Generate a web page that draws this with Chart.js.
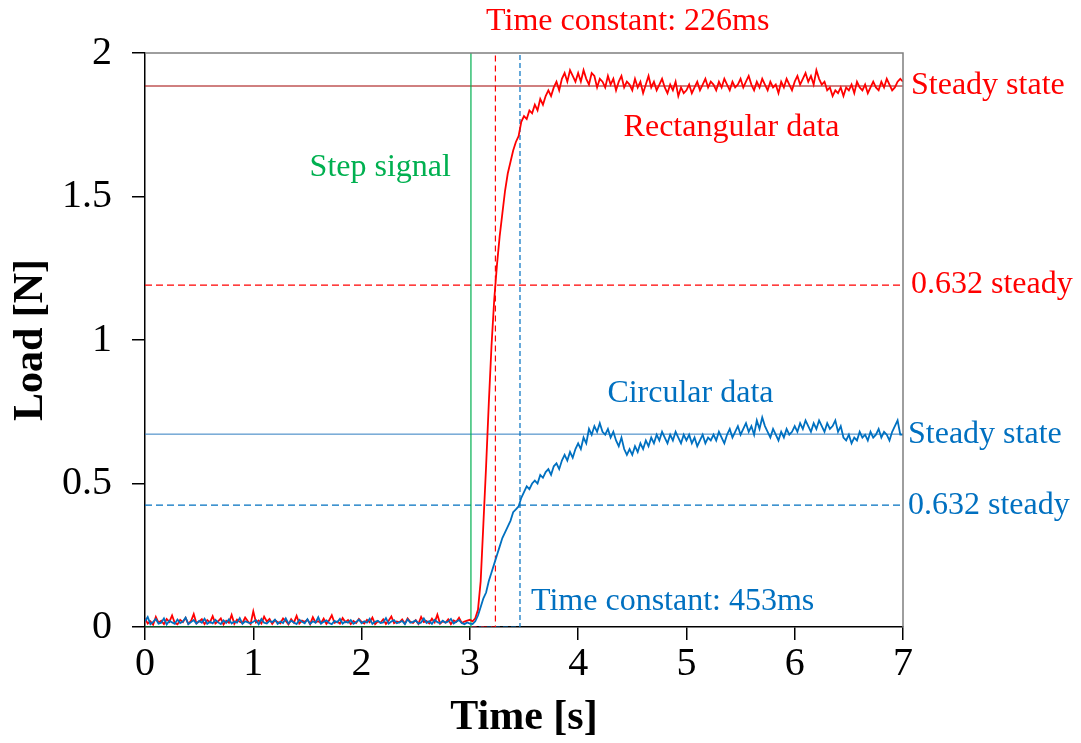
<!DOCTYPE html>
<html>
<head>
<meta charset="utf-8">
<script src="https://cdn.jsdelivr.net/npm/chart.js@4.4.1/dist/chart.umd.min.js"></script>
<style>
  html, body { margin: 0; padding: 0; background: #ffffff; }
  #wrap { width: 1081px; height: 743px; position: relative; }
</style>
</head>
<body>
<div id="wrap"><canvas id="c"></canvas></div>
<script>
// Sampling interval of the load recordings [s]
const sampleStep = 0.025;

// Load on the rectangular specimen [N], one value per sample
const rectangularLoad = [
  0.030,0.012,0.020,0.008,0.035,0.015,0.022,0.010,0.028,0.018,
  0.040,0.014,0.009,0.025,0.017,0.032,0.011,0.021,0.045,0.013,
  0.019,0.027,0.010,0.024,0.016,0.038,0.012,0.020,0.030,0.009,
  0.022,0.015,0.042,0.011,0.026,0.018,0.014,0.033,0.020,0.010,
  0.055,0.016,0.023,0.012,0.036,0.019,0.028,0.011,0.024,0.017,
  0.013,0.030,0.021,0.009,0.027,0.015,0.039,0.012,0.022,0.018,
  0.026,0.010,0.034,0.016,0.020,0.013,0.029,0.011,0.023,0.041,
  0.015,0.019,0.012,0.031,0.017,0.024,0.010,0.021,0.014,0.028,
  0.018,0.012,0.025,0.016,0.033,0.010,0.020,0.015,0.027,0.011,
  0.022,0.037,0.013,0.019,0.016,0.026,0.012,0.030,0.018,0.014,
  0.024,0.011,0.035,0.017,0.021,0.013,0.029,0.016,0.043,0.012,
  0.020,0.015,0.027,0.010,0.023,0.018,0.032,0.014,0.019,0.022,
  0.025,
  0.02,0.03,0.06,0.16,0.36,0.56,0.78,0.98,1.14,1.26,
  1.36,1.44,1.52,1.58,1.62,1.66,1.69,1.71,1.76,1.78,
  1.77,1.80,1.79,1.82,1.80,1.84,1.82,1.85,1.87,1.85,
  1.88,1.90,1.87,1.91,1.93,1.90,1.94,1.92,1.90,
  1.93,1.90,1.94,1.91,1.89,1.93,1.92,1.88,1.91,1.90,
  1.88,1.92,1.89,1.91,1.87,1.90,1.92,1.88,1.90,1.89,
  1.87,1.91,1.88,1.90,1.86,1.89,1.92,1.88,1.90,1.87,
  1.89,1.91,1.88,1.86,1.89,1.87,1.90,1.85,1.88,1.86,
  1.87,1.89,1.86,1.88,1.90,1.87,1.89,1.91,1.88,1.90,
  1.89,1.87,1.90,1.88,1.91,1.89,1.87,1.90,1.88,1.89,
  1.91,1.88,1.90,1.92,1.89,1.87,1.90,1.88,1.91,1.89,
  1.87,1.90,1.88,1.89,1.86,1.90,1.88,1.91,1.89,1.87,
  1.90,1.92,1.89,1.91,1.93,1.90,1.92,1.89,1.94,1.91,
  1.89,1.90,1.87,1.88,1.85,1.87,1.86,1.88,1.85,1.88,
  1.87,1.89,1.86,1.90,1.88,1.87,1.89,1.86,1.88,1.90,
  1.88,1.87,1.90,1.88,1.91,1.89,1.87,1.88,1.90,1.91,
  1.90
];

// Load on the circular specimen [N], one value per sample
const circularLoad = [
  0.020,0.035,0.010,0.018,0.028,0.012,0.015,0.030,0.009,0.022,
  0.016,0.011,0.026,0.014,0.019,0.033,0.010,0.017,0.024,0.012,
  0.021,0.015,0.029,0.011,0.018,0.013,0.025,0.016,0.010,0.023,
  0.014,0.027,0.012,0.019,0.015,0.031,0.011,0.020,0.016,0.013,
  0.018,0.024,0.010,0.028,0.015,0.012,0.021,0.017,0.026,0.011,
  0.019,0.014,0.030,0.012,0.022,0.016,0.010,0.025,0.018,0.013,
  0.027,0.011,0.020,0.015,0.034,0.012,0.018,0.023,0.014,0.010,
  0.021,0.016,0.028,0.012,0.019,0.015,0.024,0.011,0.017,0.026,
  0.013,0.020,0.015,0.029,0.011,0.018,0.022,0.014,0.016,0.031,
  0.012,0.019,0.024,0.013,0.017,0.021,0.010,0.027,0.015,0.018,
  0.023,0.012,0.016,0.030,0.014,0.020,0.011,0.025,0.017,0.013,
  0.022,0.015,0.019,0.028,0.012,0.018,0.024,0.014,0.010,0.016,
  0.012,
  0.01,0.02,0.04,0.07,0.10,0.12,0.16,0.19,0.22,0.25,
  0.28,0.31,0.33,0.35,0.37,0.40,0.41,0.42,0.45,0.47,
  0.49,0.48,0.50,0.51,0.50,0.53,0.52,0.54,0.55,0.53,
  0.56,0.57,0.55,0.58,0.60,0.58,0.61,0.59,0.62,0.64,
  0.62,0.66,0.64,0.69,0.67,0.70,0.68,0.71,0.68,0.67,
  0.69,0.66,0.68,0.65,0.63,0.66,0.62,0.60,0.62,
  0.60,0.63,0.61,0.64,0.62,0.65,0.63,0.66,0.64,0.67,
  0.65,0.68,0.66,0.64,0.67,0.65,0.68,0.66,0.64,0.67,
  0.65,0.67,0.64,0.66,0.63,0.65,0.67,0.64,0.66,0.65,
  0.67,0.65,0.68,0.66,0.64,0.67,0.69,0.66,0.68,0.70,
  0.67,0.69,0.71,0.68,0.70,0.67,0.72,0.69,0.73,0.70,
  0.68,0.66,0.69,0.67,0.65,0.68,0.66,0.69,0.67,0.68,
  0.70,0.68,0.71,0.69,0.72,0.70,0.68,0.71,0.69,0.72,
  0.70,0.68,0.71,0.69,0.70,0.72,0.68,0.70,0.66,0.65,
  0.67,0.64,0.66,0.65,0.68,0.66,0.67,0.65,0.68,0.66,
  0.67,0.69,0.66,0.68,0.67,0.65,0.68,0.70,0.72,0.67,
  0.67
];

// Step response characteristics
const stepTime = 3.01;          // s
const rectSteady = 1.885;       // N
const circSteady = 0.672;       // N
const rectTauMs = 226;          // ms
const circTauMs = 453;          // ms
const steadyFraction = 0.632;

// Axis ticks
const timeTicks = [0, 1, 2, 3, 4, 5, 6, 7];
const loadTicks = [0, 0.5, 1, 1.5, 2];

const RED = '#ff0000';
const BLUE = '#0070c0';
const GREEN = '#00b050';
const SERIF = "'Liberation Serif', 'Times New Roman', serif";

const toPoints = arr => arr.map((v, i) => ({ x: +(i * sampleStep).toFixed(3), y: v }));
const tMin = timeTicks[0], tMax = timeTicks[timeTicks.length - 1];
const yMax = loadTicks[loadTicks.length - 1];
const rectTau = stepTime + rectTauMs / 1000;
const circTau = stepTime + circTauMs / 1000;

const refLine = (data, color, dash, width) => ({
  data, borderColor: color, borderWidth: width, borderDash: dash,
  pointRadius: 0, fill: false, tension: 0
});

const datasets = [
  { data: toPoints(circularLoad), borderColor: BLUE, borderWidth: 1.8, pointRadius: 0, tension: 0 },
  { data: toPoints(rectangularLoad), borderColor: RED, borderWidth: 1.8, pointRadius: 0, tension: 0 },
  refLine([{ x: tMin, y: 0 }, { x: stepTime, y: 0 }, { x: stepTime, y: yMax }], GREEN, [], 1.2),
  refLine([{ x: stepTime, y: 0 }, { x: rectTau, y: 0 }, { x: rectTau, y: yMax }], RED, [6, 4], 1.2),
  refLine([{ x: stepTime, y: 0 }, { x: circTau, y: 0 }, { x: circTau, y: yMax }], BLUE, [5, 3], 1.2),
  refLine([{ x: tMin, y: rectSteady }, { x: tMax, y: rectSteady }], '#a00000', [], 1),
  refLine([{ x: tMin, y: rectSteady * steadyFraction }, { x: tMax, y: rectSteady * steadyFraction }], RED, [7, 4], 1.2),
  refLine([{ x: tMin, y: circSteady }, { x: tMax, y: circSteady }], '#2f7dc0', [], 1),
  refLine([{ x: tMin, y: circSteady * steadyFraction }, { x: tMax, y: circSteady * steadyFraction }], BLUE, [7, 4], 1.2)
];

// Frame on the top and right of the plot area plus the text annotations
const annotations = {
  id: 'annotations',
  afterDraw(chart) {
    const { ctx, chartArea: a, scales: { x, y } } = chart;
    ctx.save();
    ctx.strokeStyle = '#7f7f7f';
    ctx.lineWidth = 1.5;
    ctx.beginPath();
    ctx.moveTo(a.left, a.top);
    ctx.lineTo(a.right, a.top);
    ctx.lineTo(a.right, a.bottom);
    ctx.stroke();

    ctx.font = '32px ' + SERIF;
    ctx.textBaseline = 'middle';
    ctx.textAlign = 'left';
    const label = (text, color, px, py) => { ctx.fillStyle = color; ctx.fillText(text, px, py); };

    label('Time constant: ' + rectTauMs + 'ms', RED, x.getPixelForValue(3.15), a.top - 31);
    label('Rectangular data', RED, x.getPixelForValue(4.42), y.getPixelForValue(1.74));
    label('Step signal', GREEN, x.getPixelForValue(1.52), y.getPixelForValue(1.60));
    label('Circular data', BLUE, x.getPixelForValue(4.27), y.getPixelForValue(0.815));
    label('Time constant: ' + circTauMs + 'ms', BLUE, x.getPixelForValue(3.565), y.getPixelForValue(0.087));

    label('Steady state', RED, a.right + 8, y.getPixelForValue(rectSteady));
    label(steadyFraction + ' steady', RED, a.right + 8, y.getPixelForValue(rectSteady * steadyFraction));
    label('Steady state', BLUE, a.right + 5, y.getPixelForValue(circSteady));
    label(steadyFraction + ' steady', BLUE, a.right + 5, y.getPixelForValue(circSteady * steadyFraction));
    ctx.restore();
  }
};

new Chart(document.getElementById('c'), {
  type: 'line',
  data: { datasets },
  plugins: [annotations],
  options: {
    responsive: true,
    maintainAspectRatio: false,
    animation: false,
    devicePixelRatio: 1,
    layout: { padding: { top: 53, right: 178, left: 0, bottom: 0 } },
    plugins: { legend: { display: false }, tooltip: { enabled: false } },
    scales: {
      x: {
        type: 'linear',
        min: tMin, max: tMax,
        afterFit(s) { s.height = 116; },
        afterBuildTicks(s) { s.ticks = timeTicks.map(v => ({ value: v })); },
        ticks: { color: '#000', font: { family: SERIF, size: 40 }, padding: 0, maxRotation: 0 },
        grid: { drawOnChartArea: false, drawTicks: true, tickLength: 13, color: '#000', lineWidth: 1.5 },
        border: { display: true, color: '#000', width: 1.5 },
        title: { display: true, text: 'Time [s]', color: '#000',
                 font: { family: SERIF, size: 42, weight: 'bold' }, padding: { top: 0, bottom: 0 } }
      },
      y: {
        type: 'linear',
        min: loadTicks[0], max: yMax,
        afterFit(s) { s.width = 145; },
        afterBuildTicks(s) { s.ticks = loadTicks.map(v => ({ value: v })); },
        ticks: { color: '#000', font: { family: SERIF, size: 40 }, padding: 20,
                 callback: v => String(v) },
        grid: { drawOnChartArea: false, drawTicks: true, tickLength: 13, color: '#000', lineWidth: 1.5 },
        border: { display: true, color: '#000', width: 1.5 },
        title: { display: true, text: 'Load [N]', color: '#000',
                 font: { family: SERIF, size: 42, weight: 'bold' }, padding: { top: 6, bottom: 0 } }
      }
    }
  }
});
</script>
</body>
</html>
